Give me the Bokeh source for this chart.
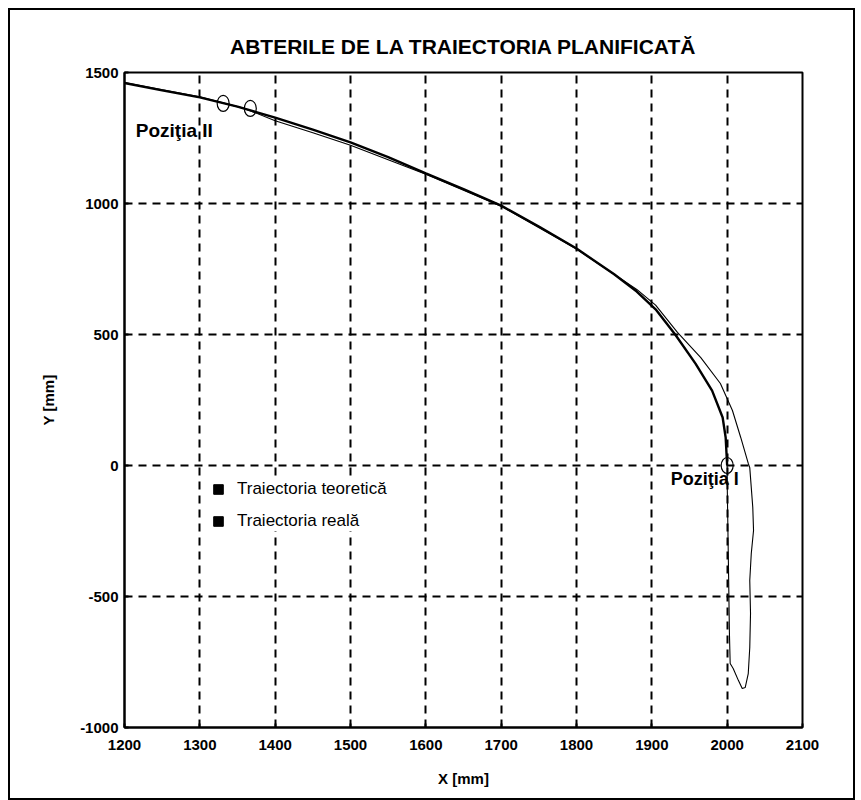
from bokeh.plotting import figure
from bokeh.layouts import column
from bokeh.models import (Range1d, FixedTicker, Legend, LegendItem, Label,
                          ColumnDataSource, PrintfTickFormatter)
from bokeh.embed import file_html
from bokeh.resources import INLINE

# Planned (theoretical) trajectory, mm
teor_x = [1200, 1250, 1300, 1350, 1400, 1450, 1500, 1550, 1600, 1650, 1700,
          1750, 1800, 1850, 1880, 1905, 1931, 1958, 1980, 1994, 1998, 2000]
teor_y = [1460, 1432, 1405, 1370, 1328, 1282, 1233, 1177, 1115, 1055, 992,
          912, 828, 730, 664, 596, 500, 389, 286, 183, 107, 0]

# Measured (real) trajectory, mm
real_x = [1200, 1300, 1360, 1400, 1450, 1500, 1550, 1600, 1700, 1800, 1880,
          1905, 1934, 1965, 1991, 2007, 2018, 2028, 2030, 2034, 2035, 2032,
          2030, 2031, 2030, 2028, 2024, 2020, 2015, 2008, 2004, 2003, 2002,
          2000, 2000]
real_y = [1462, 1407, 1362, 1316, 1270, 1222, 1167, 1112, 990, 826, 672,
          612, 508, 412, 313, 210, 107, 8, -8, -160, -248, -336,
          -439, -565, -695, -794, -847, -851, -821, -775, -756, -641, -439,
          -57, 0]

# Marked positions (I and II)
pos_x = [2000, 1331, 1367]
pos_y = [0, 1382, 1363]

x_ticks = [1200, 1300, 1400, 1500, 1600, 1700, 1800, 1900, 2000, 2100]
y_ticks = [-1000, -500, 0, 500, 1000, 1500]
x_grid = [1300, 1400, 1500, 1600, 1700, 1800, 1900, 2000]
y_grid = [-500, 0, 500, 1000]

FONT = "Liberation Sans"

p = figure(width=843, height=788, output_backend="svg", toolbar_location=None,
           x_range=Range1d(1200, 2100), y_range=Range1d(-1000, 1500),
           min_border_left=114, min_border_right=51,
           min_border_top=62, min_border_bottom=71,
           background_fill_color="white", border_fill_color="white")

p.title.text = "ABTERILE DE LA TRAIECTORIA PLANIFICATĂ"
p.title.align = "center"
p.title.text_font = FONT
p.title.text_font_size = "21px"
p.title.text_font_style = "bold"
p.title.text_color = "black"
p.title.standoff = 30

p.outline_line_color = "black"
p.outline_line_width = 2

for ax, ticks, lab in ((p.xaxis, x_ticks, "X [mm]"), (p.yaxis, y_ticks, "Y [mm]")):
    ax.ticker = FixedTicker(ticks=ticks)
    ax.formatter = PrintfTickFormatter(format="%d")
    ax.axis_label = lab
    ax.axis_label_text_font = FONT
    ax.axis_label_text_font_style = "bold"
    ax.axis_label_text_font_size = "15px"
    ax.axis_label_text_color = "black"
    ax.major_label_text_font = FONT
    ax.major_label_text_font_style = "bold"
    ax.major_label_text_font_size = "15px"
    ax.major_label_text_color = "black"
    ax.axis_line_color = "black"
    ax.axis_line_width = 2
    ax.major_tick_in = 4
    ax.major_tick_out = 0
    ax.major_tick_line_color = "black"
    ax.major_tick_line_width = 2
    ax.minor_tick_line_color = None

p.xaxis.major_label_standoff = 12
p.xaxis.axis_label_standoff = 17
p.yaxis.major_label_standoff = 6
p.yaxis.axis_label_standoff = 20

p.xgrid.ticker = FixedTicker(ticks=x_grid)
p.ygrid.ticker = FixedTicker(ticks=y_grid)
for g in (p.xgrid, p.ygrid):
    g.grid_line_color = "black"
    g.grid_line_width = 2
    g.grid_line_dash = "8 6"

# Trajectories
p.line(teor_x, teor_y, line_color="black", line_width=2.4)
p.line(real_x, real_y, line_color="black", line_width=1.1)

# Position markers
p.ellipse(pos_x, pos_y, width=12, height=16, width_units="screen",
          height_units="screen", fill_alpha=0, line_color="black", line_width=1.2)

p.add_layout(Label(x=1215, y=1280, text="Poziţia II", text_font=FONT,
                   text_font_style="bold", text_font_size="19px",
                   text_baseline="middle", text_color="black"))
p.add_layout(Label(x=1925, y=-50, text="Poziţia I", text_font=FONT,
                   text_font_style="bold", text_font_size="18px",
                   text_baseline="middle", text_color="black"))

# Legend swatches (off-range boxes, used only for the legend glyphs)
swatch = ColumnDataSource(data=dict(l=[0], r=[1], b=[-5000], t=[-4999]))
sq1 = p.quad(left="l", right="r", bottom="b", top="t", source=swatch,
             fill_color="black", line_color="black")
sq2 = p.quad(left="l", right="r", bottom="b", top="t", source=swatch,
             fill_color="black", line_color="black")
legend = Legend(items=[LegendItem(label="Traiectoria teoretică", renderers=[sq1], index=0),
                       LegendItem(label="Traiectoria reală", renderers=[sq2], index=0)],
                location=(88, 196), border_line_color=None,
                background_fill_color="white", background_fill_alpha=1,
                label_text_font=FONT, label_text_font_size="17px",
                label_text_color="black",
                glyph_width=12, glyph_height=12, spacing=12, padding=8,
                label_standoff=13)
p.add_layout(legend, "center")

# Outer frame around the whole figure
page = column(p, styles={"border": "2px solid black", "margin-left": "8px",
                         "margin-top": "8px"})

open("out.html", "w").write(file_html(page, INLINE))
